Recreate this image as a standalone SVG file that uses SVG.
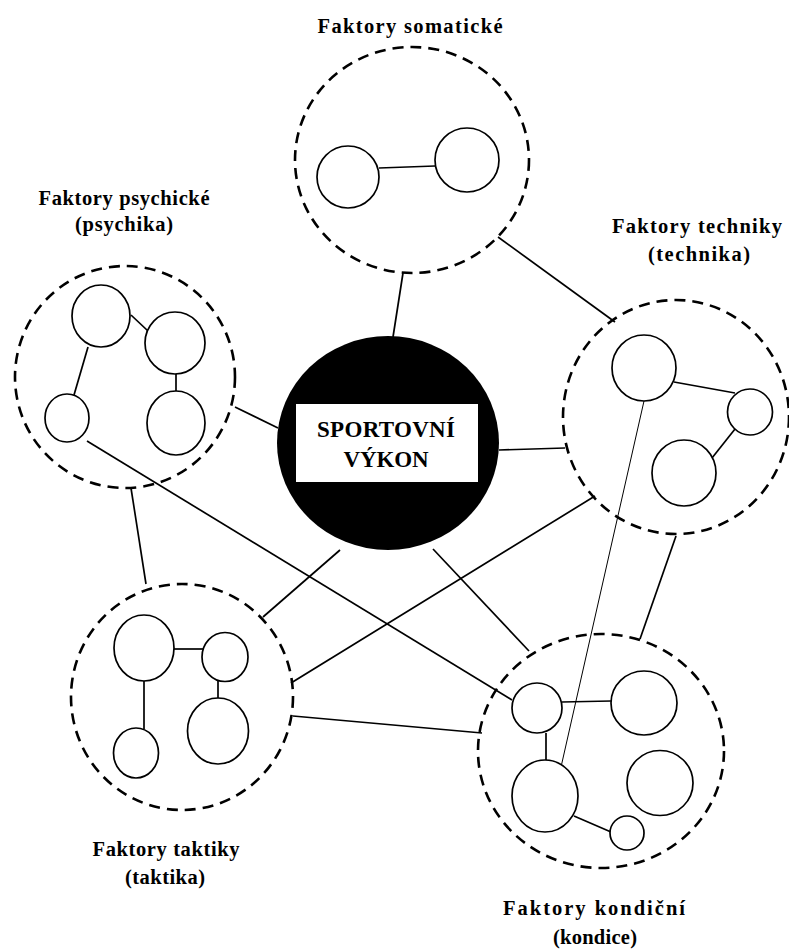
<svg xmlns="http://www.w3.org/2000/svg" width="789" height="951" viewBox="0 0 789 951">
  <style>
    .group { fill: none; stroke: #000; stroke-width: 2.6; stroke-dasharray: 11 7; }
    .factor { fill: #fff; stroke: #000; stroke-width: 1.7; }
    .link { stroke: #000; stroke-width: 1.7; fill: none; }
    .thin { stroke: #000; stroke-width: 1; fill: none; }
    .label { font-family: "Liberation Serif", "Times New Roman", serif; font-weight: bold; font-size: 20.5px; fill: #000; }
    .core { font-family: "Liberation Serif", "Times New Roman", serif; font-weight: bold; font-size: 23px; fill: #000; }
  </style>
  <rect width="789" height="951" fill="#fff"/>

  <!-- connectors between groups and the core -->
  <g id="connectors">
    <line class="link" x1="403" y1="273" x2="393" y2="337"/>
    <line class="link" x1="498" y1="237" x2="615" y2="322"/>
    <line class="link" x1="235" y1="407" x2="278" y2="428"/>
    <line class="link" x1="499" y1="450" x2="565" y2="448"/>
    <line class="link" x1="131" y1="488" x2="146" y2="584"/>
    <line class="link" x1="340" y1="550" x2="263" y2="617"/>
    <line class="link" x1="595" y1="496" x2="291" y2="683"/>
    <line class="link" x1="433" y1="549" x2="529" y2="651"/>
    <line class="link" x1="293" y1="716" x2="482" y2="733"/>
    <line class="link" x1="676" y1="536" x2="640" y2="639"/>
    <line class="link" x1="87" y1="441" x2="512" y2="700"/>
    <line class="thin" x1="644" y1="401" x2="561" y2="767"/>
  </g>

  <!-- somatic factors -->
  <g id="somaticke">
    <ellipse class="group" cx="412" cy="160" rx="117" ry="113"/>
    <line class="link" x1="379" y1="168" x2="435" y2="166"/>
    <circle class="factor" cx="348" cy="177" r="31"/>
    <circle class="factor" cx="467" cy="160" r="32"/>
    <text class="label" x="410" y="33" text-anchor="middle" textLength="185" lengthAdjust="spacing">Faktory somatické</text>
  </g>

  <!-- psychic factors -->
  <g id="psychika">
    <ellipse class="group" cx="125" cy="377" rx="110" ry="111"/>
    <line class="link" x1="131" y1="315" x2="148" y2="331"/>
    <line class="link" x1="88" y1="347" x2="74" y2="395"/>
    <line class="link" x1="176" y1="373" x2="176" y2="392"/>
    <ellipse class="factor" cx="101" cy="316" rx="29" ry="31"/>
    <ellipse class="factor" cx="175" cy="343" rx="30" ry="31"/>
    <ellipse class="factor" cx="67" cy="418" rx="22" ry="24"/>
    <ellipse class="factor" cx="176" cy="423" rx="29" ry="32"/>
    <text class="label" x="124" y="205" text-anchor="middle" textLength="171" lengthAdjust="spacing">Faktory psychické</text>
    <text class="label" x="124" y="231" text-anchor="middle" textLength="98" lengthAdjust="spacing">(psychika)</text>
  </g>

  <!-- technique factors -->
  <g id="technika">
    <ellipse class="group" cx="676" cy="417" rx="113" ry="117"/>
    <line class="link" x1="674" y1="382" x2="735" y2="393"/>
    <line class="link" x1="735" y1="429" x2="712" y2="458"/>
    <ellipse class="factor" cx="644" cy="368" rx="32" ry="33"/>
    <ellipse class="factor" cx="750" cy="412" rx="22.5" ry="23"/>
    <ellipse class="factor" cx="684" cy="473" rx="32" ry="33"/>
    <text class="label" x="697" y="233" text-anchor="middle" textLength="170" lengthAdjust="spacing">Faktory techniky</text>
    <text class="label" x="699" y="261" text-anchor="middle" textLength="102" lengthAdjust="spacing">(technika)</text>
  </g>

  <!-- tactical factors -->
  <g id="taktika">
    <ellipse class="group" cx="182" cy="697" rx="111" ry="113"/>
    <line class="link" x1="174" y1="649" x2="203" y2="649"/>
    <line class="link" x1="144" y1="681" x2="144" y2="729"/>
    <line class="link" x1="218" y1="681" x2="218" y2="698"/>
    <ellipse class="factor" cx="144" cy="648" rx="30" ry="33"/>
    <ellipse class="factor" cx="225" cy="657" rx="23" ry="24.5"/>
    <ellipse class="factor" cx="136" cy="753" rx="22.5" ry="25"/>
    <ellipse class="factor" cx="218" cy="731" rx="30.5" ry="33"/>
    <text class="label" x="166" y="856" text-anchor="middle" textLength="147" lengthAdjust="spacing">Faktory taktiky</text>
    <text class="label" x="165" y="884" text-anchor="middle" textLength="80" lengthAdjust="spacing">(taktika)</text>
  </g>

  <!-- conditioning factors -->
  <g id="kondice">
    <ellipse class="group" cx="601" cy="751" rx="123" ry="117"/>
    <line class="link" x1="562" y1="702" x2="611" y2="701"/>
    <line class="link" x1="546" y1="733" x2="546" y2="760"/>
    <line class="link" x1="574" y1="816" x2="611" y2="832"/>
    <ellipse class="factor" cx="537" cy="708" rx="25" ry="25"/>
    <ellipse class="factor" cx="644" cy="703" rx="33" ry="32"/>
    <ellipse class="factor" cx="545" cy="796" rx="33" ry="36"/>
    <ellipse class="factor" cx="660" cy="783" rx="33" ry="32.5"/>
    <ellipse class="factor" cx="627" cy="833" rx="17" ry="17"/>
    <text class="label" x="594" y="915" text-anchor="middle" textLength="182" lengthAdjust="spacing">Faktory kondiční</text>
    <text class="label" x="595" y="944" text-anchor="middle" textLength="84" lengthAdjust="spacing">(kondice)</text>
  </g>

  <!-- core: sport performance -->
  <g id="vykon">
    <ellipse cx="388" cy="443" rx="111" ry="107" fill="#000"/>
    <rect x="296" y="404" width="182" height="78" fill="#fff"/>
    <text class="core" x="386" y="437" text-anchor="middle" textLength="138" lengthAdjust="spacing">SPORTOVNÍ</text>
    <text class="core" x="386" y="467" text-anchor="middle" textLength="85" lengthAdjust="spacing">VÝKON</text>
  </g>
</svg>
